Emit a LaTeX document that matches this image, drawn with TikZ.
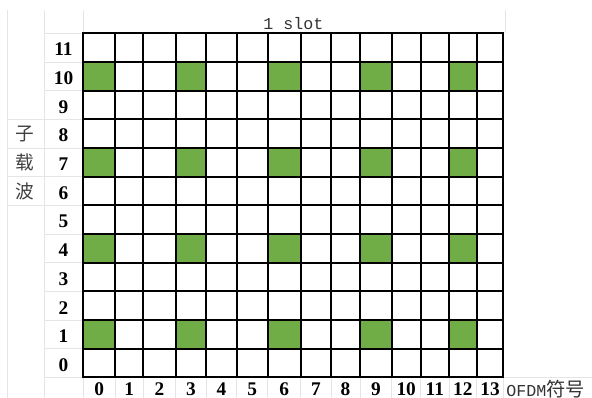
\documentclass[tikz,border=0pt]{standalone}
\usepackage{fontspec}
\setmainfont{Liberation Serif}
\setmonofont{Liberation Mono}
\newfontfamily\cjk{Noto Sans CJK SC}
\usetikzlibrary{calc}
\definecolor{pilotgreen}{RGB}{112,173,71}

\begin{document}
\begin{tikzpicture}[
  x=0.75pt, y=-0.75pt,
  gridline/.style={draw=black, line width=1.5pt, line cap=rect},
  sheetline/.style={draw=gray!20, line width=0.6pt},
  pilot/.style={fill=pilotgreen},
  idx/.style={font=\fontsize{14.5}{16}\selectfont\bfseries, inner sep=0pt},
  axislabel/.style={font=\fontsize{12.5}{14}\selectfont\ttfamily, text=black!80, inner sep=0pt},
  hanzi/.style={font=\fontsize{14}{16}\selectfont\cjk, text=black!75, inner sep=0pt}
]
  \useasboundingbox (0,0) rectangle (592,398);

  % column edges (bottom of grid), row edges (left of grid)
  \foreach \x [count=\i from 0] in {83.3,115,143.3,175.7,206,236.7,267.7,300.7,331,360,391.7,420.7,449,476.7,503.3}
    \coordinate (c\i) at (\x,377.3);
  \foreach \j in {0,...,12}
    \coordinate (r\j) at (83.3,{377.3-28.67*\j});

  % faint sheet lines
  \draw[sheetline] (7,10) -- (7,398);
  \draw[sheetline] (44,10) -- (44,398);
  \draw[sheetline] (83.3,10) -- (r12);
  \draw[sheetline] (505,10) -- (505,33.3);
  \draw[sheetline] (c14) -- (592,377.3);
  \foreach \j in {0,...,12}
    \draw[sheetline] (r\j) -- ++(-39.3,0);
  \foreach \j in {6,...,9}
    \draw[sheetline] (r\j) ++(-39.3,0) -- ++(-37,0);
  \foreach \i in {0,...,14}
    \draw[sheetline] (c\i) -- ++(0,21);

  % pilot cells
  \foreach \c in {0,3,6,9,12}
    \foreach \r in {1,4,7,10} {
      \pgfmathtruncatemacro\cc{\c+1}
      \pgfmathtruncatemacro\rr{\r+1}
      \fill[pilot] (c\c |- r\r) rectangle (c\cc |- r\rr);
    }

  % grid
  \foreach \i in {0,...,14}
    \draw[gridline] (c\i) -- (c\i |- r12);
  \foreach \j in {0,...,12}
    \draw[gridline] (r\j) -- (c14 |- r\j);

  % symbol and subcarrier numbers
  \foreach \i in {0,...,13} {
    \pgfmathtruncatemacro\k{\i+1}
    \node[idx] (sym\i) at ($(c\i)!0.5!(c\k) + (0,12)$) {\i};
  }
  \foreach \j in {0,...,11} {
    \pgfmathtruncatemacro\k{\j+1}
    \node[idx] (sc\j) at ($(r\j)!0.5!(r\k) + (-19.8,2)$) {\j};
  }

  % axis texts
  \foreach \ch/\j in {子/8,载/7,波/6} {
    \pgfmathtruncatemacro\k{\j+1}
    \node[hanzi] (sub\j) at ($(r\j)!0.5!(r\k) + (-58.3,0.5)$) {\ch};
  }
  \node[axislabel] (slot) at (293.3,24) {1 slot};
  \node[axislabel, anchor=west] (ofdm) at (506,389) {OFDM{\fontsize{14.5}{16}\selectfont\cjk 符号}};
\end{tikzpicture}
\end{document}
